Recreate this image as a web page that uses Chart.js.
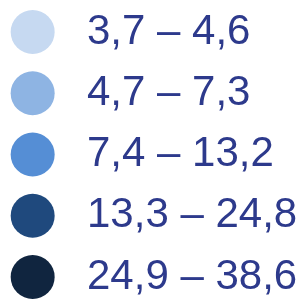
<!DOCTYPE html>
<html>
<head>
<meta charset="utf-8">
<script src="https://cdn.jsdelivr.net/npm/chart.js@4.4.1/dist/chart.umd.min.js"></script>
<style>
  html, body { margin: 0; padding: 0; background: #fff; }
  #legendChart { display: block; }
</style>
</head>
<body>
<canvas id="legendChart" width="305" height="301"></canvas>
<script>
// Class ranges and their fill colours
const ranges = ['3,7 – 4,6', '4,7 – 7,3', '7,4 – 13,2', '13,3 – 24,8', '24,9 – 38,6'];
const classColors = ['#c6d9f1', '#8eb4e3', '#558ed5', '#1f497d', '#10253f'];
const textColor = '#2d3a8c';

const ctx = document.getElementById('legendChart').getContext('2d');

const legendChart = new Chart(ctx, {
  type: 'scatter',
  data: {
    labels: ranges,
    datasets: [{
      data: ranges.map(r => ({ x: 0, y: r })),
      backgroundColor: classColors,
      borderWidth: 0,
      pointRadius: 22,
      pointHoverRadius: 22
    }]
  },
  options: {
    responsive: false,
    animation: false,
    layout: {
      autoPadding: false,
      padding: { top: 32, bottom: 21, left: 0, right: 0 }
    },
    scales: {
      x: {
        type: 'linear',
        min: -7,
        max: 11,
        display: false
      },
      y: {
        type: 'category',
        labels: ranges,
        position: 'right',
        offset: false,
        grid: { display: false, drawTicks: false },
        border: { display: false },
        // keep the label column wide enough so the text is not clipped
        afterFit: scale => { scale.width = 221; },
        ticks: {
          padding: 3,
          color: textColor,
          font: { family: '"Liberation Sans", Arial, sans-serif', size: 42, lineHeight: 1 }
        }
      }
    },
    plugins: {
      legend: { display: false },
      tooltip: { enabled: false }
    }
  }
});
</script>
</body>
</html>
